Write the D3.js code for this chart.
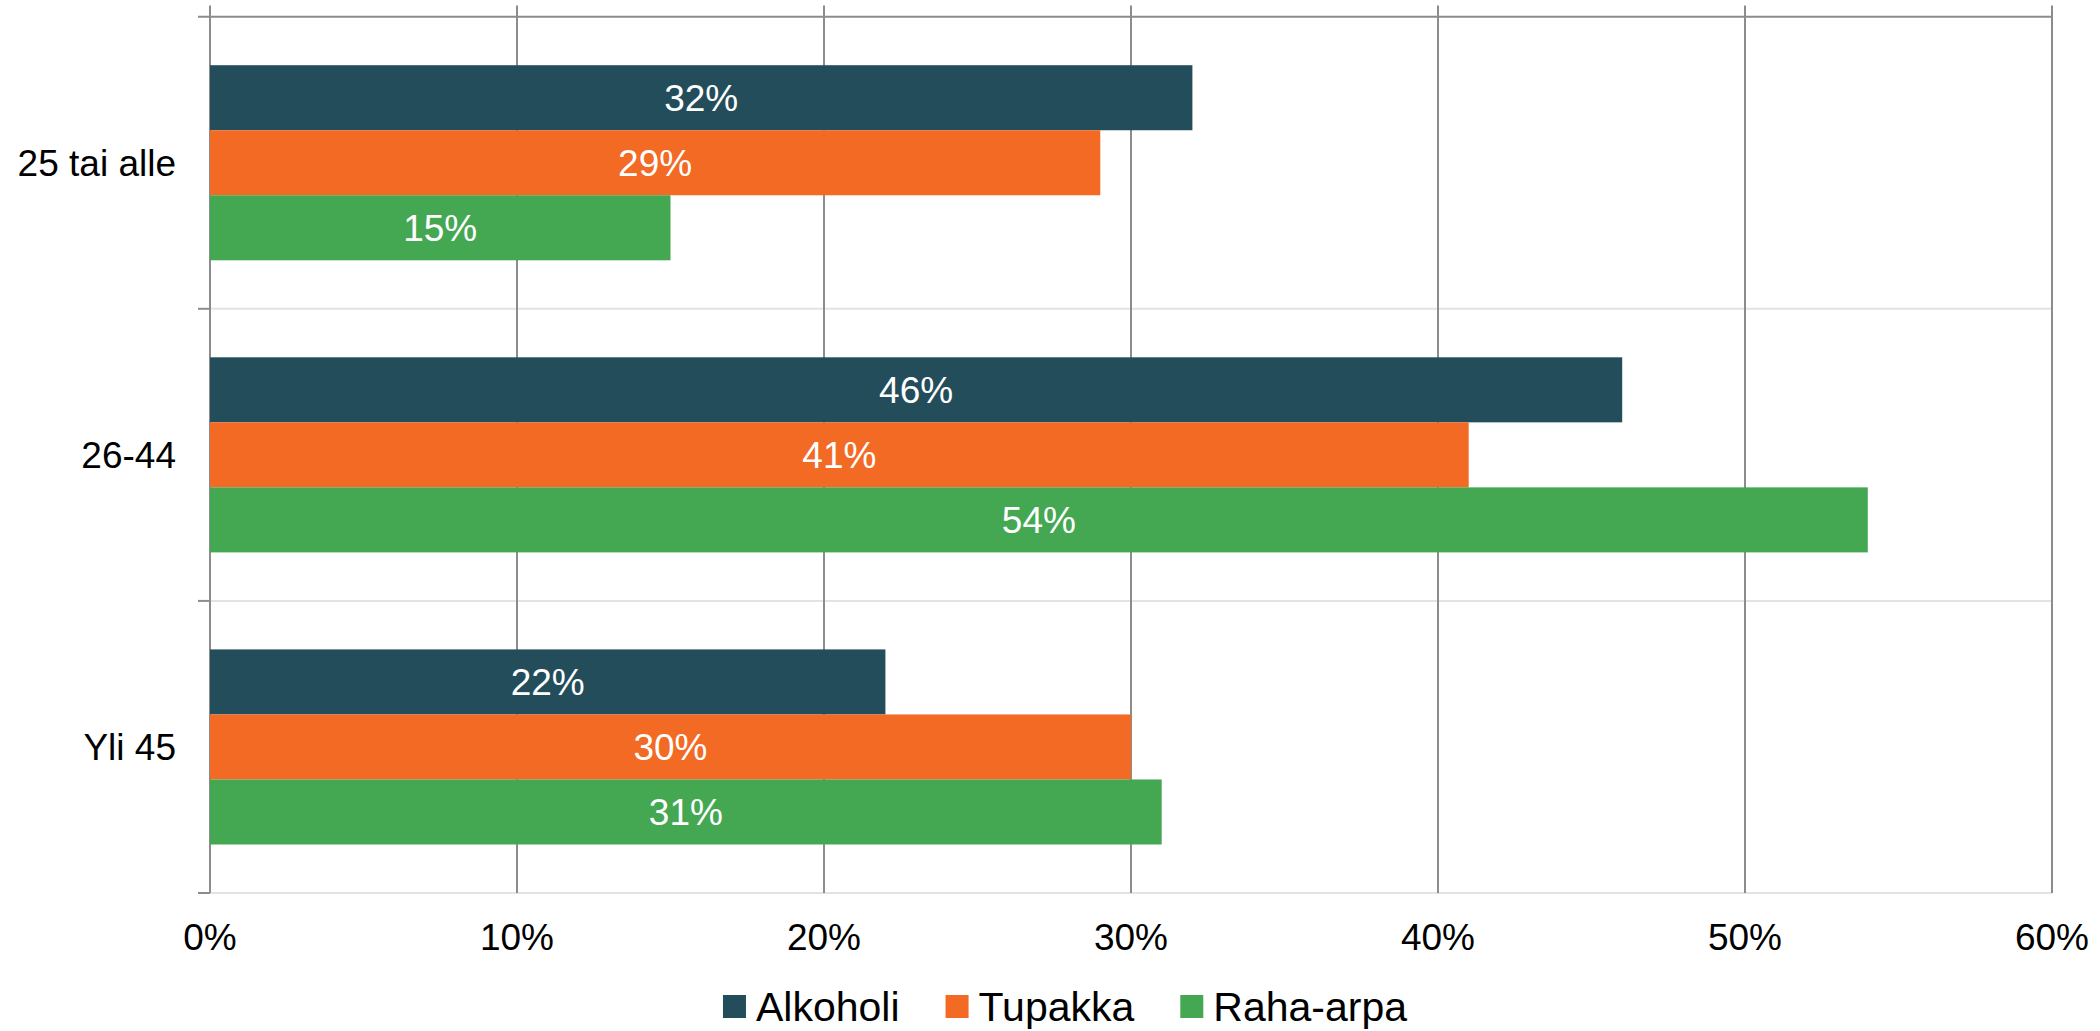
<!DOCTYPE html>
<html>
<head>
<meta charset="utf-8">
<script src="https://cdn.jsdelivr.net/npm/d3@7"></script>
<style>
  html, body { margin: 0; padding: 0; background: #fff; }
  svg { display: block; }
  text { font-family: "Liberation Sans", Arial, sans-serif; }
</style>
</head>
<body>
<svg id="chart" width="2100" height="1031"></svg>
<script>
const categories = ["25 tai alle", "26-44", "Yli 45"];
const seriesNames = ["Alkoholi", "Tupakka", "Raha-arpa"];
const alkoholi = [0.32, 0.46, 0.22];
const tupakka = [0.29, 0.41, 0.30];
const rahaArpa = [0.15, 0.54, 0.31];
const xTicks = [0, 0.1, 0.2, 0.3, 0.4, 0.5, 0.6];
const colors = ["#234D5B", "#F26A24", "#44A853"];

(function () {
const seriesValues = [alkoholi, tupakka, rahaArpa];

const svg = d3.select("#chart");
const pLeft = 210, pRight = 2052, pTop = 16.7, pBottom = 893;

const x = d3.scaleLinear().domain([0, 0.6]).range([pLeft, pRight]);
const y0 = d3.scaleBand().domain(categories).range([pTop, pBottom]).paddingInner(0).paddingOuter(0);
const y1 = d3.scaleBand().domain(seriesNames).range([0, y0.bandwidth()]).paddingInner(0).paddingOuter(0.746);

const grid = svg.append("g");
categories.forEach((c, i) => {
  if (i > 0) {
    grid.append("line").attr("x1", pLeft).attr("x2", pRight)
      .attr("y1", y0(c)).attr("y2", y0(c))
      .attr("stroke", "#e3e3e3").attr("stroke-width", 2);
  }
});
grid.append("line").attr("x1", pLeft).attr("x2", pRight)
  .attr("y1", pBottom).attr("y2", pBottom)
  .attr("stroke", "#e3e3e3").attr("stroke-width", 2);

xTicks.forEach(t => {
  grid.append("line").attr("x1", x(t)).attr("x2", x(t))
    .attr("y1", 5.5).attr("y2", pBottom)
    .attr("stroke", "#8c8c8c").attr("stroke-width", 2);
});
grid.append("line").attr("x1", 198).attr("x2", pRight + 1)
  .attr("y1", pTop).attr("y2", pTop)
  .attr("stroke", "#8c8c8c").attr("stroke-width", 2);
categories.forEach((c) => {
  grid.append("line").attr("x1", 198).attr("x2", pLeft)
    .attr("y1", y0(c) + y0.bandwidth()).attr("y2", y0(c) + y0.bandwidth())
    .attr("stroke", "#8c8c8c").attr("stroke-width", 2);
});

const groups = svg.append("g").selectAll("g").data(categories).join("g")
  .attr("transform", c => `translate(0,${y0(c)})`);

seriesNames.forEach((s, si) => {
  groups.append("rect")
    .attr("x", x(0))
    .attr("y", y1(s))
    .attr("width", (c, ci) => x(seriesValues[si][ci]) - x(0))
    .attr("height", y1.bandwidth())
    .attr("fill", colors[si]);
  groups.append("text")
    .attr("x", (c, ci) => (x(0) + x(seriesValues[si][ci])) / 2)
    .attr("y", y1(s) + y1.bandwidth() / 2 + 13.5)
    .attr("text-anchor", "middle")
    .attr("fill", "#fff")
    .attr("font-size", 37)
    .text((c, ci) => Math.round(seriesValues[si][ci] * 100) + "%");
});

svg.append("g").selectAll("text").data(categories).join("text")
  .attr("x", 176)
  .attr("y", c => y0(c) + y0.bandwidth() / 2 + 13)
  .attr("text-anchor", "end")
  .attr("font-size", 37)
  .attr("fill", "#000")
  .text(c => c);

svg.append("g").selectAll("text").data(xTicks).join("text")
  .attr("x", t => x(t))
  .attr("y", 950)
  .attr("text-anchor", "middle")
  .attr("font-size", 37)
  .attr("fill", "#000")
  .text(t => Math.round(t * 100) + "%");

const legend = svg.append("g");
const sq = 23, gapSq = 10, gapItem = 46;
let cx = 0;
seriesNames.forEach((s, i) => {
  const g = legend.append("g");
  g.append("rect").attr("x", cx).attr("y", 995).attr("width", sq).attr("height", sq).attr("fill", colors[i]);
  const t = g.append("text").attr("x", cx + sq + gapSq).attr("y", 1020.5)
    .attr("font-size", 41).attr("fill", "#000").text(s);
  const w = t.node().getComputedTextLength();
  cx += sq + gapSq + w + gapItem;
});
const totalW = cx - gapItem;
legend.attr("transform", `translate(${1065 - totalW / 2},0)`);
})();
</script>
</body>
</html>
